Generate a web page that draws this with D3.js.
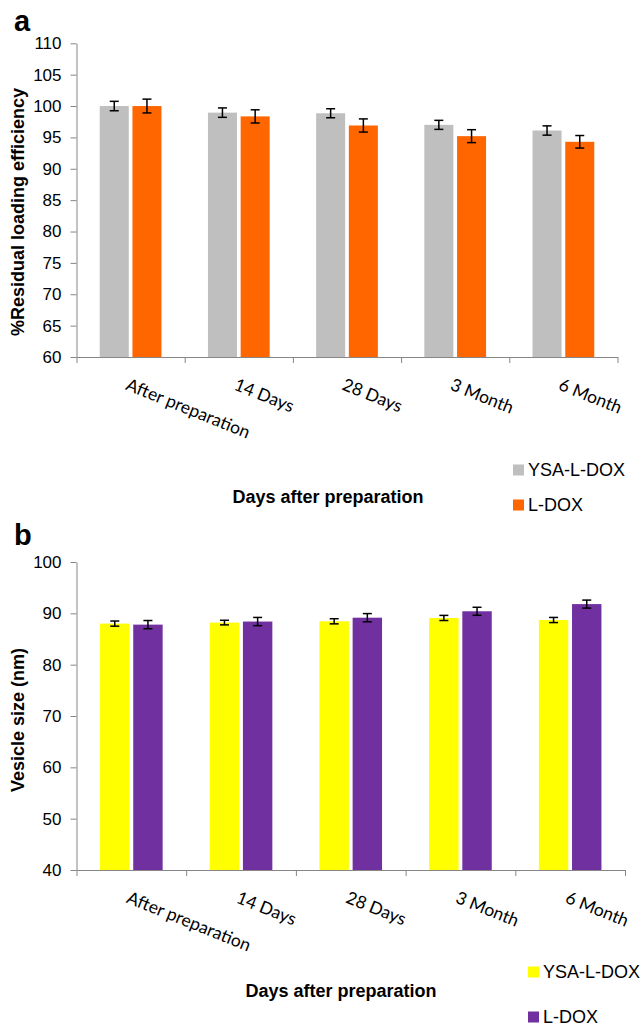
<!DOCTYPE html>
<html lang="en">
  <head>
    <meta charset="utf-8" />
    <title>Loading efficiency and vesicle size</title>
    <script type="text/javascript" src="https://d3js.org/d3.v7.min.js"></script>
    <style>
      body {
        margin: 0;
        background: #fff;
      }
      text {
        font-family: "Liberation Sans", Arial, sans-serif;
        fill: #000;
      }
      .axis path,
      .axis line {
        stroke: #868686;
        stroke-width: 1px;
      }
      .axis text {
        font-size: 17px;
      }
      .xlabel {
        font-family: Lato, "Open Sans", sans-serif;
        font-size: 17.5px;
      }
      .title {
        font-size: 18px;
        font-weight: bold;
      }
      .panel {
        font-size: 29px;
        font-weight: bold;
      }
      .legend text {
        font-size: 18px;
      }
      .err line {
        stroke: #000;
        stroke-width: 1.5px;
      }
    </style>
  </head>
  <body>
    <script>
      let w = 643;
      let h = 1028;

      // shared categories and series
      const categories = ["After preparation", "14 Days", "28 Days", "3 Month", "6 Month"];
      const seriesNames = ["YSA-L-DOX", "L-DOX"];

      // panel a: % residual loading efficiency
      const loadingYSA = [100, 98.95, 98.85, 97.0, 96.1];
      const loadingYSAErr = [0.75, 0.75, 0.72, 0.72, 0.74];
      const loadingLDOX = [100, 98.35, 96.9, 95.2, 94.3];
      const loadingLDOXErr = [1.1, 1.05, 1.05, 1.03, 1.0];
      const loadingTicks = [60, 65, 70, 75, 80, 85, 90, 95, 100, 105, 110];

      // panel b: vesicle size (nm)
      const sizeYSA = [88.0, 88.2, 88.45, 89.1, 88.7];
      const sizeYSAErr = [0.5, 0.45, 0.5, 0.5, 0.5];
      const sizeLDOX = [87.8, 88.4, 89.15, 90.4, 91.8];
      const sizeLDOXErr = [0.8, 0.8, 0.8, 0.78, 0.78];
      const sizeTicks = [40, 50, 60, 70, 80, 90, 100];

      let svg = d3
        .select("body")
        .append("svg")
        .attr("width", w)
        .attr("height", h);

      function drawPanel(p) {
        let g = svg.append("g");

        let rows = categories.map((c, i) => ({
          cat: c,
          vals: [
            { s: seriesNames[0], v: p.a[i], e: p.aErr[i] },
            { s: seriesNames[1], v: p.b[i], e: p.bErr[i] },
          ],
        }));

        let x0 = d3.scaleBand().domain(categories).range([p.left, p.right]);
        let x1 = d3
          .scaleBand()
          .domain(seriesNames)
          .range([0, x0.bandwidth()])
          .paddingInner(0.113)
          .paddingOuter(0.71);
        let y = d3
          .scaleLinear()
          .domain(d3.extent(p.ticks))
          .range([p.bottom, p.top]);
        let color = d3.scaleOrdinal().domain(seriesNames).range(p.colors);

        // bars
        let groups = g
          .selectAll("g.grp")
          .data(rows)
          .join("g")
          .attr("class", "grp")
          .attr("transform", (d) => `translate(${x0(d.cat)},0)`);

        groups
          .selectAll("rect")
          .data((d) => d.vals)
          .join("rect")
          .attr("x", (d) => x1(d.s))
          .attr("width", x1.bandwidth())
          .attr("y", (d) => y(d.v))
          .attr("height", (d) => p.bottom - y(d.v))
          .attr("fill", (d) => color(d.s));

        // error bars
        let err = groups
          .selectAll("g.err")
          .data((d) => d.vals)
          .join("g")
          .attr("class", "err")
          .attr("transform", (d) => `translate(${x1(d.s) + x1.bandwidth() / 2},0)`);
        err
          .append("line")
          .attr("y1", (d) => y(d.v + d.e))
          .attr("y2", (d) => y(d.v - d.e));
        err
          .append("line")
          .attr("x1", -4.5)
          .attr("x2", 4.5)
          .attr("y1", (d) => y(d.v + d.e))
          .attr("y2", (d) => y(d.v + d.e));
        err
          .append("line")
          .attr("x1", -4.5)
          .attr("x2", 4.5)
          .attr("y1", (d) => y(d.v - d.e))
          .attr("y2", (d) => y(d.v - d.e));

        // y axis
        g.append("g")
          .attr("class", "y axis")
          .attr("transform", `translate(${p.left},0)`)
          .call(
            d3.axisLeft(y).tickValues(p.ticks).tickSize(6).tickSizeOuter(0).tickPadding(9)
          );

        // x axis: ticks on category boundaries, labels rotated
        let xb = d3
          .scaleLinear()
          .domain([0, categories.length])
          .range([p.left, p.right]);
        g.append("g")
          .attr("class", "x axis")
          .attr("transform", `translate(0,${p.bottom})`)
          .call(
            d3.axisBottom(xb).ticks(categories.length).tickSize(6).tickSizeOuter(0).tickFormat("")
          );

        g.selectAll("text.xlabel")
          .data(categories)
          .join("text")
          .attr("class", "xlabel")
          .attr(
            "transform",
            (d) => `translate(${x0(d) + x0.bandwidth() / 2 - 1},${p.bottom + 20}) rotate(22)`
          )
          .attr("dy", "0.75em")
          .text((d) => d);

        // titles
        g.append("text")
          .attr("class", "title")
          .attr("text-anchor", "middle")
          .attr("transform", `translate(24,${p.yTitleY}) rotate(-90)`)
          .text(p.yTitle);

        g.append("text")
          .attr("class", "title")
          .attr("text-anchor", "middle")
          .attr("x", p.xTitleX)
          .attr("y", p.xTitleY)
          .text("Days after preparation");

        g.append("text")
          .attr("class", "panel")
          .attr("x", 14)
          .attr("y", p.panelY)
          .text(p.panel);

        // legend
        let lg = g
          .append("g")
          .attr("class", "legend")
          .selectAll("g")
          .data(seriesNames)
          .join("g")
          .attr("transform", (d, i) => `translate(${p.legX},${p.legY[i]})`);
        lg.append("rect")
          .attr("x", 0)
          .attr("y", -5.5)
          .attr("width", 11)
          .attr("height", 11)
          .attr("fill", (d) => color(d));
        lg.append("text")
          .attr("x", 15)
          .attr("dy", "0.36em")
          .text((d) => d);
      }

      drawPanel({
        panel: "a",
        panelY: 31,
        a: loadingYSA,
        aErr: loadingYSAErr,
        b: loadingLDOX,
        bErr: loadingLDOXErr,
        ticks: loadingTicks,
        colors: ["#BFBFBF", "#FF6600"],
        left: 76.5,
        right: 617.5,
        top: 43.3,
        bottom: 357,
        yTitle: "%Residual loading efficiency",
        yTitleY: 212,
        xTitleX: 328,
        xTitleY: 503,
        legX: 513,
        legY: [470, 505],
      });

      drawPanel({
        panel: "b",
        panelY: 545,
        a: sizeYSA,
        aErr: sizeYSAErr,
        b: sizeLDOX,
        bErr: sizeLDOXErr,
        ticks: sizeTicks,
        colors: ["#FFFF00", "#7030A0"],
        left: 76.5,
        right: 625,
        top: 562,
        bottom: 870,
        yTitle: "Vesicle size (nm)",
        yTitleY: 720,
        xTitleX: 341,
        xTitleY: 997,
        legX: 528,
        legY: [972, 1017],
      });
    </script>
  </body>
</html>
